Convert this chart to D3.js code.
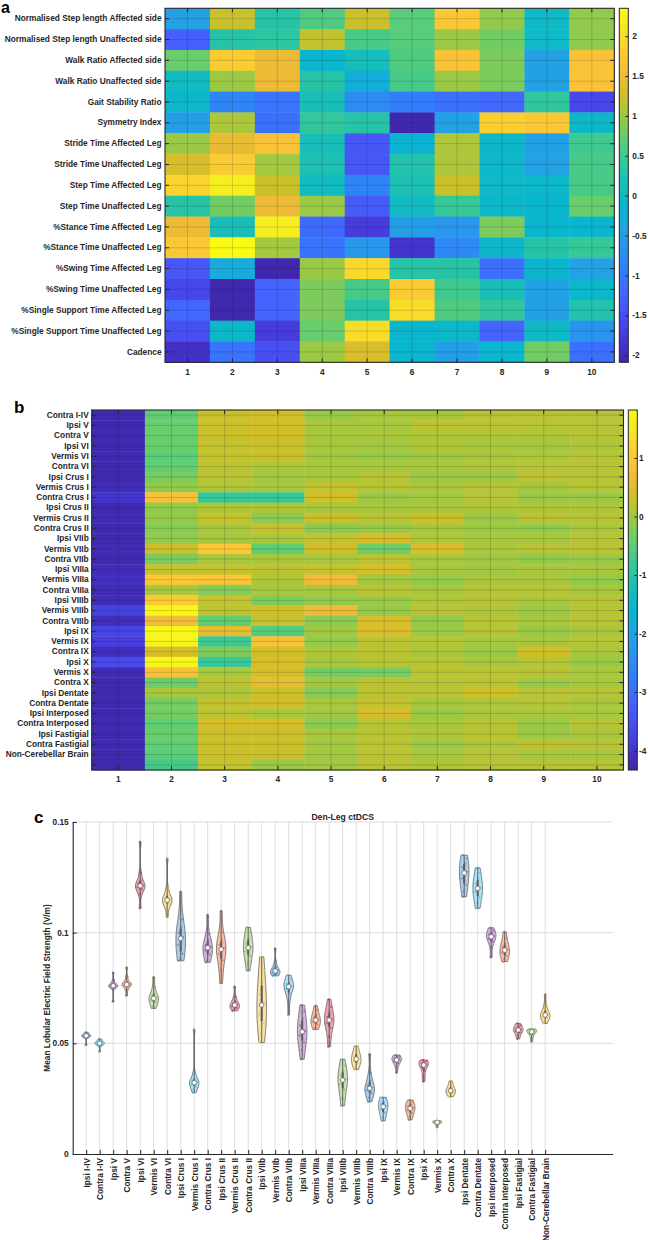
<!DOCTYPE html>
<html lang="en">
<head>
  <meta charset="UTF-8">
  <title>Gait z-scores and lobular field strength</title>
  <script src="https://cdnjs.cloudflare.com/ajax/libs/d3/7.8.5/d3.min.js"></script>
  <style>
    body { margin: 0; background: #fff; }
    svg text { font-family: "Liberation Sans", Arial, sans-serif; font-weight: bold; fill: #262626; }
    .tk text { font-size: 8.3px; }
  </style>
</head>
<body>
  <svg id="fig" width="648" height="1240"></svg>
  <script>
  // ---- data ----
  const columns = [1, 2, 3, 4, 5, 6, 7, 8, 9, 10]

  const gaitLabels = [
    'Normalised Step length Affected side', 'Normalised Step length Unaffected side',
    'Walk Ratio Affected side', 'Walk Ratio Unaffected side', 'Gait Stability Ratio',
    'Symmetry Index', 'Stride Time Affected Leg', 'Stride Time Unaffected Leg',
    'Step Time Affected Leg', 'Step Time Unaffected Leg', '%Stance Time Affected Leg',
    '%Stance Time Unaffected Leg', '%Swing Time Affected Leg', '%Swing Time Unaffected Leg',
    '%Single Support Time Affected Leg', '%Single Support Time Unaffected Leg', 'Cadence'
  ]

  const heatA = [
    [-0.45, 1.25, 0.3, 0.6, 1.25, 0.65, 1.75, 0.95, 0.0, 0.95],
    [-1.3, 0.3, 0.35, 1.2, 0.55, 0.65, 1.0, 0.8, 0.0, 0.95],
    [0.75, 1.8, 1.5, -0.1, 0.1, 0.6, 1.7, 0.85, -0.45, 1.7],
    [0.05, 1.0, 1.5, 0.3, -0.25, 0.55, 1.0, 0.85, -0.45, 1.7],
    [-0.05, -0.85, -1.05, 0.15, -0.75, -0.95, -1.1, -1.2, 0.4, -1.6],
    [-0.5, 1.1, -1.1, 0.4, 0.3, -2.05, -0.45, 1.85, 1.75, -0.05],
    [1.0, 1.45, 1.7, 0.15, -1.4, -0.15, 1.1, -0.05, -0.45, 0.5],
    [1.35, 1.8, 1.05, 0.2, -1.4, 0.25, 1.1, -0.05, -0.45, 0.55],
    [1.9, 2.2, 1.25, 0.05, -0.85, 0.2, 1.25, 0.0, -0.05, 0.55],
    [0.3, 0.8, 1.5, 1.0, -1.35, 0.05, 0.45, -0.05, -0.1, 0.75],
    [1.5, 0.15, 2.2, -1.15, -1.75, -0.5, -0.6, 0.85, -0.1, -0.1],
    [1.75, 2.35, 1.05, -1.05, -0.6, -1.85, -0.8, -0.05, 0.3, 0.45],
    [-1.4, -0.3, -2.05, 1.0, 1.95, 0.3, 0.3, -1.1, -0.1, -0.45],
    [-1.6, -2.05, -1.25, 0.85, 0.55, 1.8, 0.5, 0.15, -0.45, -0.05],
    [-1.2, -2.05, -1.25, 0.85, 0.3, 2.0, 0.6, 0.4, -0.45, 0.25],
    [-1.5, -0.05, -1.75, 0.75, 2.0, -0.1, -0.05, -1.25, 0.0, -0.65],
    [-1.9, -1.05, -1.5, 1.0, 1.35, -0.1, -0.5, -0.1, 0.8, -1.1]
  ]
  const climA = [-2.09, 2.35]
  const cbTicksA = [-2, -1.5, -1, -0.5, 0, 0.5, 1, 1.5, 2]

  const regions = [
    'Ipsi I-IV', 'Contra I-IV', 'Ipsi V', 'Contra V', 'Ipsi VI', 'Vermis VI', 'Contra VI',
    'Ipsi Crus I', 'Vermis Crus I', 'Contra Crus I', 'Ipsi Crus II', 'Vermis Crus II', 'Contra Crus II',
    'Ipsi VIIb', 'Vermis VIIb', 'Contra VIIb', 'Ipsi VIIIa', 'Vermis VIIIa', 'Contra VIIIa',
    'Ipsi VIIIb', 'Vermis VIIIb', 'Contra VIIIb', 'Ipsi IX', 'Vermis IX', 'Contra IX',
    'Ipsi X', 'Vermis X', 'Contra X', 'Ipsi Dentate', 'Contra Dentate', 'Ipsi Interposed',
    'Contra Interposed', 'Ipsi Fastigial', 'Contra Fastigial', 'Non-Cerebellar Brain'
  ]

  // panel b rows are in region order, tick labels start one region late (last tick blank)
  const heatB = [
    [-4.25, -0.45, 0.3, 0.4, -0.05, 0.05, 0.05, 0.2, 0.2, 0.15],
    [-4.25, -0.4, 0.3, 0.35, 0.05, 0.05, 0.2, 0.2, 0.15, 0.15],
    [-4.25, -0.4, 0.3, 0.35, 0.05, 0.05, 0.1, 0.1, 0.1, 0.15],
    [-4.25, -0.4, 0.25, 0.3, 0.05, 0.0, 0.1, 0.05, 0.0, 0.1],
    [-4.25, -0.5, 0.25, 0.3, 0.0, -0.05, 0.0, 0.05, 0.1, 0.15],
    [-4.25, -0.45, 0.2, 0.1, 0.05, 0.05, 0.05, 0.1, 0.15, 0.15],
    [-4.25, -0.3, 0.2, 0.0, 0.05, 0.15, -0.05, -0.05, 0.2, 0.15],
    [-4.2, -0.1, 0.1, 0.05, 0.25, 0.15, 0.05, 0.15, 0.05, 0.15],
    [-4.0, 0.85, -0.85, -0.85, 0.35, -0.05, 0.0, 0.15, -0.05, -0.05],
    [-4.25, -0.1, 0.1, 0.1, 0.05, 0.05, 0.05, 0.1, 0.1, 0.1],
    [-4.2, -0.1, 0.25, -0.15, 0.3, 0.15, 0.3, -0.05, 0.15, 0.15],
    [-4.25, -0.2, 0.05, 0.25, -0.15, -0.05, 0.05, -0.05, -0.1, 0.05],
    [-4.25, -0.1, 0.05, 0.05, 0.25, 0.4, 0.1, 0.05, 0.05, 0.15],
    [-4.2, 0.3, 1.0, -0.45, 0.35, -0.35, 0.45, 0.05, 0.15, 0.2],
    [-4.25, -0.25, 0.05, 0.05, 0.05, 0.2, 0.05, 0.0, -0.1, -0.05],
    [-4.2, 0.25, 0.25, 0.2, 0.25, 0.4, 0.05, 0.0, 0.05, 0.05],
    [-4.1, 1.0, 0.95, 0.1, 0.7, 0.0, -0.1, 0.05, 0.05, -0.1],
    [-4.2, 0.05, -0.2, 0.05, 0.05, 0.15, 0.05, 0.15, 0.15, 0.05],
    [-4.2, 1.05, 0.25, -0.25, -0.1, -0.05, 0.1, 0.15, 0.05, 0.15],
    [-3.75, 1.75, 0.2, 0.35, 0.65, -0.1, 0.15, 0.1, -0.05, 0.15],
    [-4.15, 0.7, -0.45, 0.25, -0.15, 0.45, -0.1, 0.15, 0.05, 0.15],
    [-3.7, 1.75, 0.55, -0.55, 0.0, 0.45, -0.05, 0.15, -0.05, 0.05],
    [-3.8, 1.7, -0.75, 0.85, -0.1, 0.2, 0.15, 0.05, 0.05, 0.15],
    [-4.15, 0.4, -0.25, 0.35, 0.1, 0.2, 0.05, -0.05, 0.35, 0.05],
    [-3.6, 1.75, -0.8, 0.4, 0.05, 0.15, 0.15, 0.05, 0.15, -0.05],
    [-4.2, 0.85, 0.05, 0.4, -0.3, -0.3, 0.2, 0.2, 0.15, 0.05],
    [-4.25, -0.35, 0.2, 0.55, 0.0, 0.2, 0.15, 0.2, -0.05, 0.05],
    [-4.25, 0.05, 0.1, 0.3, -0.2, 0.2, 0.2, 0.35, 0.15, 0.15],
    [-4.25, -0.3, 0.25, 0.35, 0.05, 0.25, 0.05, 0.1, 0.15, 0.05],
    [-4.25, -0.3, 0.2, 0.05, 0.0, 0.4, -0.05, 0.05, 0.05, 0.05],
    [-4.25, -0.45, 0.4, 0.4, -0.15, 0.15, 0.05, 0.15, -0.05, 0.15],
    [-4.25, -0.4, 0.3, 0.3, 0.05, 0.2, 0.1, 0.2, -0.05, 0.05],
    [-4.25, -0.45, 0.3, 0.3, 0.0, 0.2, -0.05, 0.1, 0.2, 0.15],
    [-4.25, -0.5, 0.3, 0.3, 0.0, 0.2, 0.05, 0.15, 0.05, 0.05],
    [-4.25, -0.7, 0.25, -0.05, 0.0, 0.2, 0.1, 0.15, 0.15, 0.15]
  ]
  const climB = [-4.33, 1.82]
  const cbTicksB = [-4, -3, -2, -1, 0, 1]

  // mean lobular E-field per subject (V/m), one list per region
  const violinSamples = [
    [0.0492, 0.0525, 0.0530, 0.0532, 0.0533, 0.0535, 0.0537, 0.0540, 0.0545, 0.0550],
    [0.0462, 0.0490, 0.0495, 0.0498, 0.0499, 0.0501, 0.0504, 0.0508, 0.0514, 0.0520],
    [0.0688, 0.0748, 0.0755, 0.0758, 0.0759, 0.0761, 0.0764, 0.0770, 0.0785, 0.0820],
    [0.0715, 0.0742, 0.0758, 0.0762, 0.0765, 0.0767, 0.0771, 0.0778, 0.0800, 0.0843],
    [0.1110, 0.1175, 0.1195, 0.1205, 0.1210, 0.1214, 0.1222, 0.1235, 0.1270, 0.1410],
    [0.0658, 0.0668, 0.0685, 0.0695, 0.0700, 0.0706, 0.0712, 0.0725, 0.0752, 0.0800],
    [0.1070, 0.1115, 0.1130, 0.1140, 0.1145, 0.1149, 0.1157, 0.1170, 0.1200, 0.1336],
    [0.0873, 0.0880, 0.0905, 0.0945, 0.0968, 0.0980, 0.1000, 0.1025, 0.1060, 0.1185],
    [0.0277, 0.0290, 0.0305, 0.0315, 0.0320, 0.0324, 0.0330, 0.0340, 0.0365, 0.0563],
    [0.0866, 0.0875, 0.0900, 0.0920, 0.0928, 0.0936, 0.0945, 0.0965, 0.0995, 0.1080],
    [0.0771, 0.0830, 0.0875, 0.0905, 0.0920, 0.0930, 0.0945, 0.0965, 0.1000, 0.1099],
    [0.0647, 0.0652, 0.0660, 0.0667, 0.0671, 0.0675, 0.0680, 0.0690, 0.0710, 0.0756],
    [0.0828, 0.0860, 0.0895, 0.0915, 0.0928, 0.0936, 0.0950, 0.0975, 0.1000, 0.1024],
    [0.0504, 0.0545, 0.0590, 0.0630, 0.0660, 0.0686, 0.0720, 0.0775, 0.0830, 0.0891],
    [0.0805, 0.0810, 0.0815, 0.0820, 0.0825, 0.0829, 0.0835, 0.0845, 0.0870, 0.0929],
    [0.0628, 0.0690, 0.0725, 0.0745, 0.0753, 0.0759, 0.0766, 0.0775, 0.0790, 0.0808],
    [0.0428, 0.0470, 0.0505, 0.0535, 0.0548, 0.0556, 0.0580, 0.0610, 0.0645, 0.0673],
    [0.0563, 0.0570, 0.0585, 0.0597, 0.0603, 0.0607, 0.0615, 0.0630, 0.0650, 0.0670],
    [0.0485, 0.0530, 0.0570, 0.0590, 0.0602, 0.0608, 0.0620, 0.0640, 0.0665, 0.0699],
    [0.0217, 0.0250, 0.0290, 0.0315, 0.0330, 0.0338, 0.0355, 0.0375, 0.0400, 0.0428],
    [0.0382, 0.0395, 0.0410, 0.0420, 0.0427, 0.0431, 0.0440, 0.0455, 0.0470, 0.0488],
    [0.0236, 0.0255, 0.0275, 0.0288, 0.0295, 0.0299, 0.0310, 0.0330, 0.0365, 0.0452],
    [0.0150, 0.0165, 0.0185, 0.0200, 0.0211, 0.0217, 0.0225, 0.0235, 0.0248, 0.0256],
    [0.0367, 0.0395, 0.0410, 0.0418, 0.0423, 0.0427, 0.0432, 0.0437, 0.0442, 0.0447],
    [0.0154, 0.0168, 0.0185, 0.0198, 0.0204, 0.0208, 0.0215, 0.0225, 0.0236, 0.0244],
    [0.0327, 0.0350, 0.0375, 0.0392, 0.0400, 0.0404, 0.0410, 0.0415, 0.0420, 0.0425],
    [0.0120, 0.0130, 0.0137, 0.0141, 0.0142, 0.0144, 0.0145, 0.0147, 0.0148, 0.0150],
    [0.0259, 0.0266, 0.0275, 0.0281, 0.0285, 0.0287, 0.0293, 0.0303, 0.0316, 0.0330],
    [0.1162, 0.1185, 0.1215, 0.1245, 0.1265, 0.1275, 0.1295, 0.1315, 0.1335, 0.1350],
    [0.1110, 0.1135, 0.1160, 0.1185, 0.1197, 0.1203, 0.1220, 0.1245, 0.1270, 0.1293],
    [0.0888, 0.0935, 0.0960, 0.0972, 0.0979, 0.0985, 0.0992, 0.1000, 0.1010, 0.1022],
    [0.0869, 0.0880, 0.0895, 0.0910, 0.0918, 0.0924, 0.0935, 0.0950, 0.0975, 0.1004],
    [0.0520, 0.0535, 0.0548, 0.0555, 0.0558, 0.0562, 0.0567, 0.0574, 0.0582, 0.0590],
    [0.0507, 0.0525, 0.0538, 0.0546, 0.0550, 0.0554, 0.0557, 0.0560, 0.0563, 0.0565],
    [0.0590, 0.0605, 0.0615, 0.0622, 0.0626, 0.0630, 0.0637, 0.0650, 0.0675, 0.0723]
  ]
  const yTicksC = [0, 0.05, 0.1, 0.15]

  // ---- colours ----
  // parula, every 4th entry of the 64 colour map
  const parulaStops = ['#3e26a8', '#4537d5', '#484df0', '#4563fd', '#327cfc', '#2b91ef', '#20a5e3', '#08b5d0',
    '#19bfb6', '#37c897', '#64cd6f', '#9dc943', '#d1bf27', '#f8ba3d', '#fccf30', '#f5e924', '#f9fb15']
  const parulaPos = parulaStops.map((c, i) => i === parulaStops.length - 1 ? 1 : i * 4 / 63)
  const parula = d3.scaleLinear().domain(parulaPos).range(parulaStops).interpolate(d3.interpolateRgb).clamp(true)
  const violinColors = ['#4f8fcc', '#4dbeee', '#9a59b0', '#ea6f40', '#d23c5c', '#8cbf55', '#f5c23e']

  const svg = d3.select('#fig')
  svg.append('rect').attr('width', 648).attr('height', 1240).attr('fill', '#fff')
  const defs = svg.append('defs')
  const grad = defs.append('linearGradient').attr('id', 'parula')
    .attr('x1', 0).attr('x2', 0).attr('y1', 1).attr('y2', 0)
  grad.selectAll('stop').data(parulaStops).enter().append('stop')
    .attr('offset', (d, i) => parulaPos[i]).attr('stop-color', d => d)

  const ink = '#262626'
  function clean(sel) {
    sel.attr('font-family', null).attr('font-size', null).attr('color', ink)
    sel.select('.domain').remove()
  }

  function heatmap(o) {
    const g = svg.append('g')
    const x = d3.scaleBand().domain(columns).range([o.left, o.right])
    const y = d3.scaleBand().domain(d3.range(o.values.length)).range([o.top, o.bottom])
    const color = d3.scaleSequential(t => parula(t)).domain(o.clim)

    o.values.forEach((row, i) => {
      g.append('g').selectAll('rect')
        .data(row)
        .enter()
        .append('rect')
        .attr('x', (d, j) => x(columns[j]))
        .attr('y', y(i))
        .attr('width', x.bandwidth() + 0.4)
        .attr('height', y.bandwidth() + 0.4)
        .attr('fill', d => color(d))
    })

    // grid lines sit on the ticks (cell centres)
    g.selectAll('line.gx').data(columns).enter().append('line')
      .attr('x1', d => x(d) + x.bandwidth() / 2).attr('x2', d => x(d) + x.bandwidth() / 2)
      .attr('y1', o.top).attr('y2', o.bottom)
      .attr('stroke', 'rgba(30,30,30,0.22)').attr('stroke-width', 0.8)
    g.selectAll('line.gy').data(y.domain()).enter().append('line')
      .attr('y1', d => y(d) + y.bandwidth() / 2).attr('y2', d => y(d) + y.bandwidth() / 2)
      .attr('x1', o.left).attr('x2', o.right)
      .attr('stroke', 'rgba(30,30,30,0.22)').attr('stroke-width', 0.8)

    g.append('g').attr('class', 'tk').attr('transform', `translate(${o.left},0)`)
      .call(d3.axisLeft(y).tickSizeInner(-4).tickSizeOuter(0).tickPadding(o.labelPad).tickFormat(i => o.labels[i]))
      .call(clean)
    g.append('g').attr('transform', `translate(${o.right},0)`)
      .call(d3.axisRight(y).tickSizeInner(-4).tickSizeOuter(0).tickFormat(''))
      .call(clean)
    g.append('g').attr('transform', `translate(0,${o.top})`)
      .call(d3.axisTop(x).tickSizeInner(-4).tickSizeOuter(0).tickFormat(''))
      .call(clean)
    g.append('g').attr('class', 'tk').attr('transform', `translate(0,${o.bottom})`)
      .call(d3.axisBottom(x).tickSizeInner(-4).tickSizeOuter(0).tickPadding(o.xPad))
      .call(clean)
    g.append('rect')
      .attr('x', o.left).attr('y', o.top)
      .attr('width', o.right - o.left).attr('height', o.bottom - o.top)
      .attr('fill', 'none').attr('stroke', ink).attr('stroke-width', 1.1)

    // colorbar
    const cy = d3.scaleLinear().domain(o.clim).range([o.bottom, o.top])
    g.append('rect')
      .attr('x', o.cbLeft).attr('y', o.top)
      .attr('width', 9).attr('height', o.bottom - o.top)
      .attr('fill', 'url(#parula)')
    g.append('g').attr('class', 'tk').attr('transform', `translate(${o.cbLeft + 9},0)`)
      .call(d3.axisRight(cy).tickValues(o.cbTicks).tickSizeInner(-3).tickSizeOuter(0).tickPadding(o.cbPad).tickFormat(d => String(d)))
      .call(clean)
    g.append('rect')
      .attr('x', o.cbLeft).attr('y', o.top)
      .attr('width', 9).attr('height', o.bottom - o.top)
      .attr('fill', 'none').attr('stroke', ink).attr('stroke-width', 1)
  }

  heatmap({
    values: heatA, labels: gaitLabels, clim: climA, cbTicks: cbTicksA,
    left: 165, right: 614.3, top: 8.3, bottom: 362.3, cbLeft: 619.3, cbPad: 4, labelPad: 3.5, xPad: 6.5
  })

  heatmap({
    values: heatB, labels: regions.slice(1).concat(['']), clim: climB, cbTicks: cbTicksB,
    left: 91.7, right: 623.5, top: 410, bottom: 770, cbLeft: 628.3, cbPad: 1.8, labelPad: 3, xPad: 6
  })

  // ---- panel c: violins ----
  const xc = d3.scaleLinear().domain([0, 40]).range([72.7, 612.7])
  const yc = d3.scaleLinear().domain([0, 0.15]).range([1154, 822])
  const gc = svg.append('g')

  gc.selectAll('line.vg').data(d3.range(1, regions.length + 1)).enter().append('line')
    .attr('x1', d => xc(d)).attr('x2', d => xc(d))
    .attr('y1', yc(0)).attr('y2', yc(0.15))
    .attr('stroke', '#dcdcdc').attr('stroke-width', 1)
  gc.selectAll('line.hg').data(yTicksC.slice(1)).enter().append('line')
    .attr('y1', d => yc(d)).attr('y2', d => yc(d))
    .attr('x1', xc(0)).attr('x2', xc(40))
    .attr('stroke', '#dcdcdc').attr('stroke-width', 1)

  regions.forEach((name, i) => {
    const s = violinSamples[i].slice().sort(d3.ascending)
    const lo = s[0], hi = s[s.length - 1]
    const med = d3.median(s)
    const q1 = d3.quantile(s, 0.25), q3 = d3.quantile(s, 0.75)
    const mad = d3.median(s, v => Math.abs(v - med))
    const bw = (mad / 0.6745 || d3.deviation(s)) * Math.pow(4 / (3 * s.length), 0.2)
    const kde = v => d3.mean(s, u => Math.exp(-0.5 * ((v - u) / bw) ** 2))
    const pts = d3.range(41).map(k => lo + (hi - lo) * k / 40)
    const dens = pts.map(v => ({ v: v, d: kde(v) }))
    const w = d3.scaleLinear().domain([0, d3.max(dens, d => d.d)]).range([0, 4.8])
    const cx = xc(i + 1)
    const col = violinColors[i % violinColors.length]

    const area = d3.area()
      .curve(d3.curveBasis)
      .y(d => yc(d.v))
      .x0(d => cx - w(d.d))
      .x1(d => cx + w(d.d))
    gc.append('path').datum(dens)
      .attr('d', area)
      .attr('fill', col).attr('fill-opacity', 0.45)
      .attr('stroke', '#636363').attr('stroke-width', 0.8)

    gc.append('g').selectAll('circle')
      .data(s)
      .enter()
      .append('circle')
      .attr('cx', (d, j) => cx + ((j * 37) % 11 / 10 - 0.5) * 1.4 * w(kde(d)))
      .attr('cy', d => yc(d))
      .attr('r', 1.1)
      .attr('fill', col).attr('opacity', 0.8)

    gc.append('line')
      .attr('x1', cx).attr('x2', cx).attr('y1', yc(lo)).attr('y2', yc(hi))
      .attr('stroke', '#5a5a5a').attr('stroke-width', 0.9)
    gc.append('rect')
      .attr('x', cx - 1).attr('width', 2)
      .attr('y', yc(q3)).attr('height', yc(q1) - yc(q3))
      .attr('fill', '#5a5a5a')
    gc.append('circle')
      .attr('cx', cx).attr('cy', yc(med)).attr('r', 2.3)
      .attr('fill', '#fff').attr('stroke', '#6b6b6b').attr('stroke-width', 0.8)
  })

  const axL = gc.append('g').attr('class', 'tk').attr('transform', `translate(${xc(0)},0)`)
    .call(d3.axisLeft(yc).tickValues(yTicksC).tickSizeInner(-4).tickSizeOuter(0).tickPadding(4).tickFormat(d => String(d)))
  axL.attr('font-family', null).attr('font-size', null).attr('color', ink)
  axL.select('.domain').attr('stroke-width', 1.1)

  const axB = gc.append('g').attr('class', 'tk').attr('transform', `translate(0,${yc(0)})`)
    .call(d3.axisBottom(xc).tickValues(d3.range(1, regions.length + 1)).tickSizeInner(-4).tickSizeOuter(0).tickFormat(i => regions[i - 1]))
  axB.attr('font-family', null).attr('font-size', null).attr('color', ink)
  axB.select('.domain').attr('stroke-width', 1.1)
  axB.selectAll('text')
    .attr('transform', 'rotate(-90)')
    .attr('x', -4).attr('y', 0).attr('dy', '0.35em')
    .style('text-anchor', 'end')

  gc.append('text')
    .attr('transform', `translate(47,${(yc(0) + yc(0.15)) / 2}) rotate(-90)`)
    .attr('text-anchor', 'middle').attr('dy', '0.35em')
    .style('font-size', '8.3px')
    .text('Mean Lobular Electric Field Strength (V/m)')

  gc.append('text')
    .attr('x', (xc(0) + xc(40)) / 2).attr('y', 819.5)
    .attr('text-anchor', 'middle')
    .style('font-size', '8.6px')
    .text('Den-Leg ctDCS')

  // panel letters
  svg.append('text').attr('x', 1).attr('y', 12.5).style('font-size', '16px').style('fill', '#000').text('a')
  svg.append('text').attr('x', 14).attr('y', 413).style('font-size', '17px').style('fill', '#000').text('b')
  svg.append('text').attr('x', 34).attr('y', 823).style('font-size', '17px').style('fill', '#000').text('c')
  </script>
</body>
</html>
